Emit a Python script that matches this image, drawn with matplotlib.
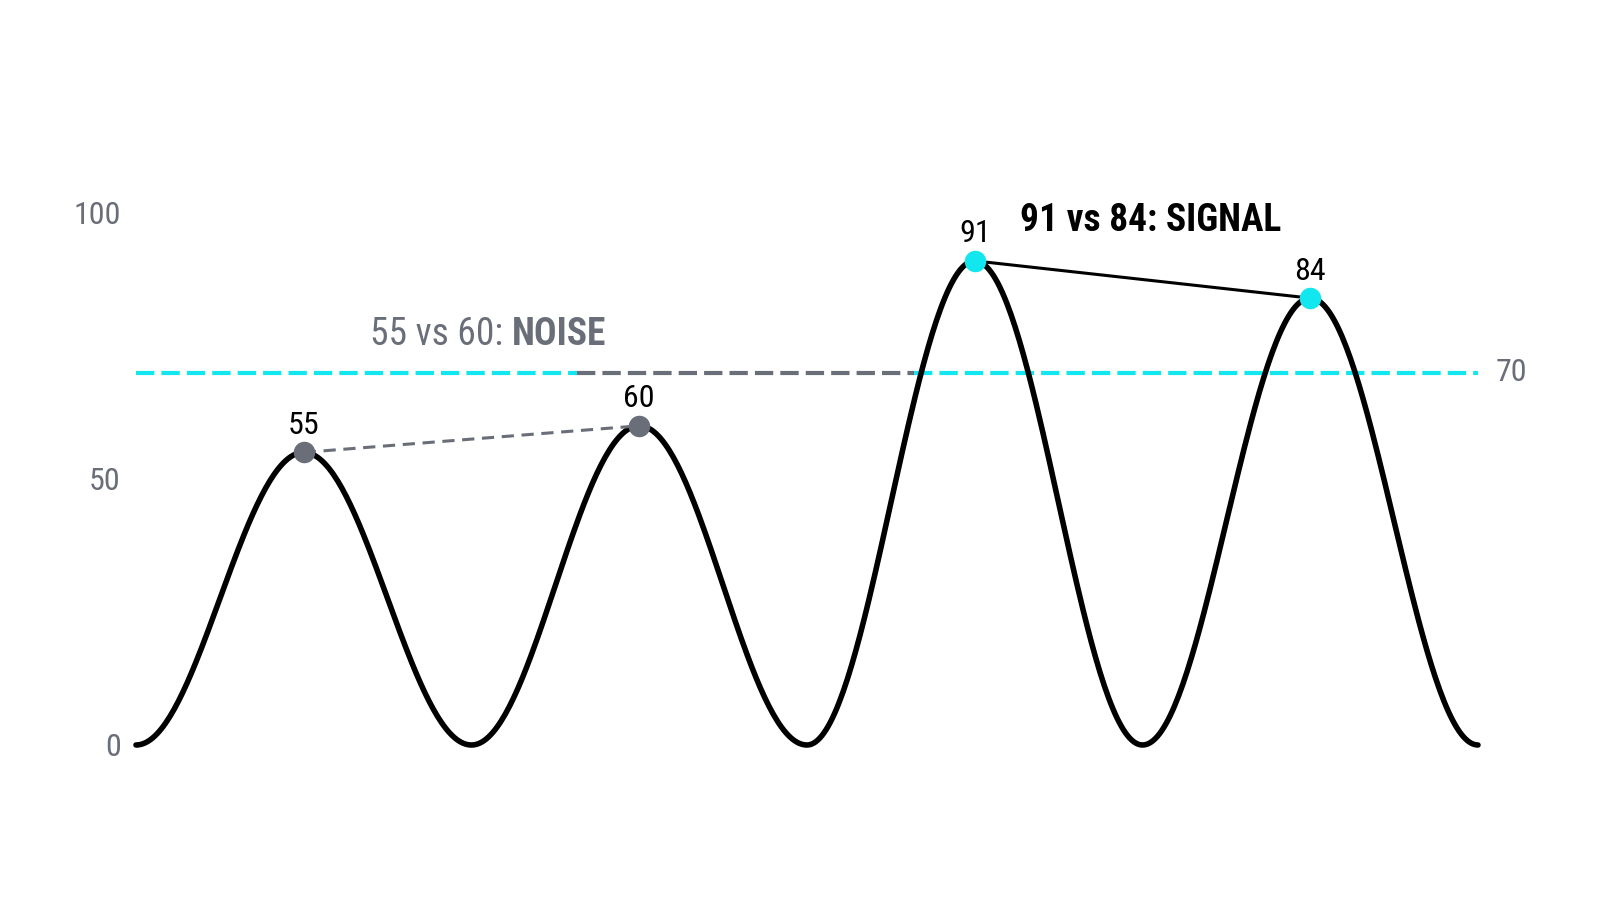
import numpy as np
import matplotlib.pyplot as plt
from matplotlib import font_manager
from matplotlib.font_manager import FontProperties
from matplotlib.transforms import offset_copy

# peak and trough values
peak_x = [1, 3, 5, 7]
peak_vals = [55, 60, 91, 84]
trough_x = [0, 2, 4, 6, 8]
trough_vals = [0, 0, 0, 0, 0]
threshold = 70
y_ticks = [0, 50, 100]

noise_pair = [0, 1]
signal_pair = [2, 3]

GRAY = '#6a6e78'
CYAN = '#12e6ef'


def find_font(patterns, bold):
    # look for a narrow face by file name, fall back to Roboto
    for pat in patterns:
        for f in font_manager.fontManager.ttflist:
            n = f.fname.lower().replace(' ', '').replace('-', '')
            if pat in n and ('bold' in n) == bold and 'italic' not in n and 'oblique' not in n:
                return FontProperties(fname=f.fname)
    return FontProperties(family='Roboto', weight='bold' if bold else 'normal')


narrow = ['robotocondensed', 'liberationsansnarrow', 'dejavusanscondensed']
fp_reg = find_font(narrow, False)
fp_bold = find_font(narrow, True)

# smooth humps between key points (cosine easing between trough and peak)
lookup = dict(zip(trough_x + peak_x, trough_vals + peak_vals))
key_x = sorted(lookup)
key_y = [lookup[k] for k in key_x]
xs, ys = [], []
for i in range(len(key_x) - 1):
    t = np.linspace(0, 1, 80)
    e = (1 - np.cos(np.pi * t)) / 2
    xs.extend(key_x[i] + (key_x[i + 1] - key_x[i]) * t)
    ys.extend(key_y[i] + (key_y[i + 1] - key_y[i]) * e)

fig = plt.figure(figsize=(16, 9.14), dpi=100)
ax = fig.add_axes([136 / 1600, 169 / 914, 1342 / 1600, 532 / 914])
ax.set_xlim(0, 8)
ax.set_ylim(0, 100)
for s in ax.spines.values():
    s.set_visible(False)
ax.set_xticks([])
ax.set_yticks(y_ticks)
ax.set_yticklabels([str(v) for v in y_ticks])
ax.tick_params(axis='y', length=0, pad=11)
for lab in ax.get_yticklabels():
    lab.set_fontproperties(fp_reg)
    lab.set_fontsize(23)
    lab.set_color(GRAY)

# threshold line: cyan, gray over the middle stretch
seg_a, seg_b = 2.63, 4.64
dash = (4.4, 1.7)
ax.plot([0, seg_a], [threshold, threshold], color=CYAN, lw=3, dashes=dash, zorder=2)
ax.plot([seg_a, seg_b], [threshold, threshold], color=GRAY, lw=3, dashes=dash, zorder=2)
ax.plot([seg_b, 8], [threshold, threshold], color=CYAN, lw=3, dashes=dash, zorder=2)
ax.text(8, threshold, '70', transform=offset_copy(ax.transData, fig=fig, x=12.5, y=0, units='points'),
        ha='left', va='center', fontproperties=fp_reg, fontsize=23, color=GRAY)

ax.plot(xs, ys, color='black', lw=4, zorder=3, clip_on=False, solid_capstyle='round')

# comparison lines
ax.plot([peak_x[i] for i in noise_pair], [peak_vals[i] for i in noise_pair],
        color=GRAY, lw=2.2, dashes=(4, 2.5), zorder=4)
ax.plot([peak_x[i] for i in signal_pair], [peak_vals[i] for i in signal_pair],
        color='black', lw=2.2, zorder=4)

for i, (px, pv) in enumerate(zip(peak_x, peak_vals)):
    c = GRAY if i in noise_pair else CYAN
    ax.plot(px, pv, 'o', ms=15.5, color=c, mec='none', zorder=5)
    ax.annotate(str(pv), (px, pv), xytext=(0, 9), textcoords='offset points',
                ha='center', va='bottom', fontproperties=fp_reg, fontsize=23, color='black')

# callouts
t1 = ax.text(1.395, 77.1, '55 vs 60: ', fontproperties=fp_reg, fontsize=27, color=GRAY,
             va='center', ha='left')
fig.canvas.draw()
w = t1.get_window_extent().width
ax.text(1.395, 77.1, 'NOISE', transform=offset_copy(ax.transData, fig=fig, x=w, y=0, units='dots'),
        fontproperties=fp_bold, fontsize=27, color=GRAY, va='center', ha='left')
ax.text(5.27, 98.5, '91 vs 84: SIGNAL', fontproperties=fp_bold, fontsize=27, color='black',
        va='center', ha='left')

fig.savefig('out.png', dpi=100)
